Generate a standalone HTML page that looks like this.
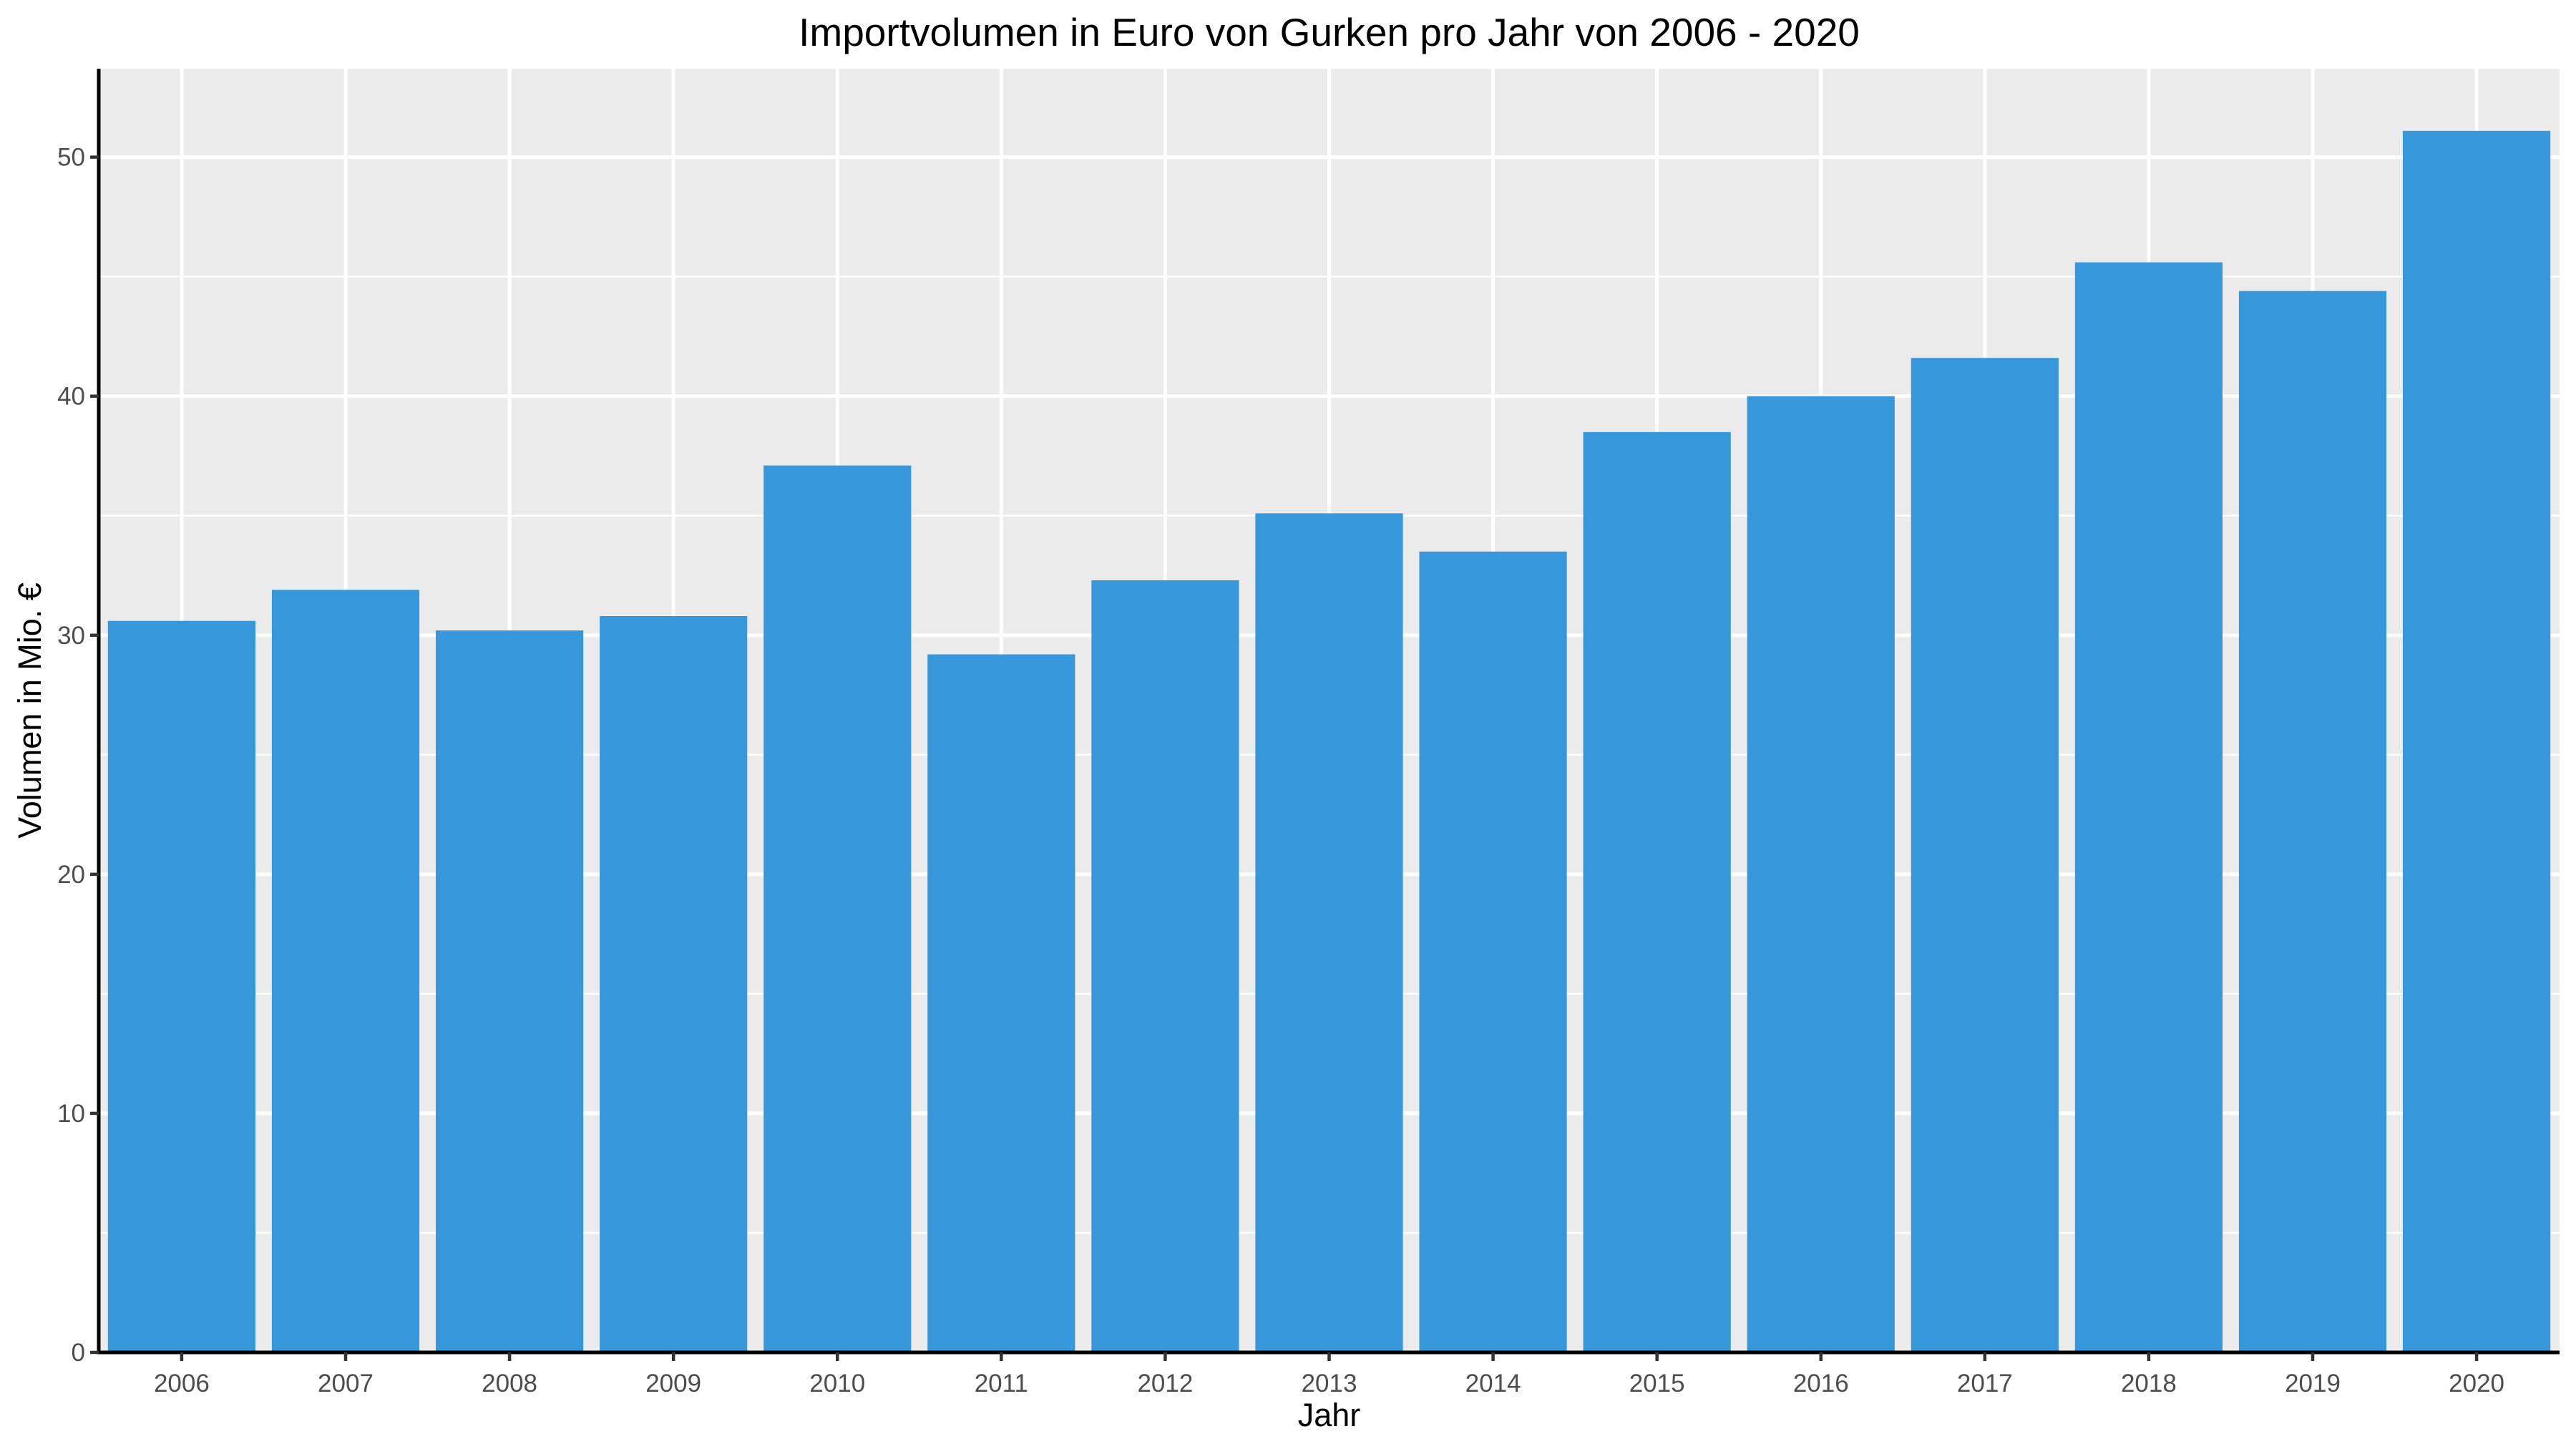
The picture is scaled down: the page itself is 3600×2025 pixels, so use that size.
<!DOCTYPE html>
<html><head><meta charset="utf-8"><style>
html,body{margin:0;padding:0;background:#fff;}
svg{display:block;font-family:"Liberation Sans",Arial,sans-serif;}
</style></head><body>
<svg id="chart" width="3600" height="2025" viewBox="0 0 3600 2025" xmlns="http://www.w3.org/2000/svg"></svg>
<script>
const categories = ["2006","2007","2008","2009","2010","2011","2012","2013","2014","2015","2016","2017","2018","2019","2020"];
const values = [30.6,31.9,30.2,30.8,37.1,29.2,32.3,35.1,33.5,38.5,40.0,41.6,45.6,44.4,51.1];
const yTicks = [0,10,20,30,40,50];
const yMinor = [5,15,25,35,45];

const NS="http://www.w3.org/2000/svg";
const svg=document.getElementById('chart');
const L=138,R=3577,T=96,B=1890;
const yMax=53.7;
const expand=0.506;
const step=(R-L)/(categories.length-1+2*expand);
function x(i){return L+(i+expand)*step;}
function y(v){return B-(v/yMax)*(B-T);}
function mk(tag,attrs,parent){const e=document.createElementNS(NS,tag);for(const k in attrs)e.setAttribute(k,attrs[k]);(parent||svg).appendChild(e);return e;}

const panel=mk('rect',{x:L,y:T,width:R-L,height:B-T,fill:'#ebebeb'});



const grid=mk('g',{});


yMinor.forEach(v=>{const l=mk('line',{x1:L,x2:R,y1:y(v),y2:y(v),stroke:'#fff','stroke-width':2.5},grid);

});
yTicks.forEach(v=>{const l=mk('line',{x1:L,x2:R,y1:y(v),y2:y(v),stroke:'#fff','stroke-width':5},grid);

});
categories.forEach((c,i)=>{const l=mk('line',{x1:x(i),x2:x(i),y1:T,y2:B,stroke:'#fff','stroke-width':5},grid);

});

const bars=mk('g',{});


const bw=step*0.9;
values.forEach((v,i)=>{const r=mk('rect',{x:x(i)-bw/2,y:y(v),width:bw,height:B-y(v),fill:'#3697da'},bars);

});

const ax=mk('g',{});


mk('line',{x1:L,x2:L,y1:T,y2:B+1.5,stroke:'#000','stroke-width':5},ax);
mk('line',{x1:L-2.5,x2:R,y1:B,y2:B,stroke:'#000','stroke-width':5},ax);

yTicks.forEach(v=>{
 mk('line',{x1:L-12,x2:L,y1:y(v),y2:y(v),stroke:'#333','stroke-width':4.5},ax);
 const t=mk('text',{x:L-19,y:y(v)+12,'text-anchor':'end','font-size':35,fill:'#4d4d4d'},ax);
 t.textContent=v;
 
 
});
categories.forEach((c,i)=>{
 mk('line',{x1:x(i),x2:x(i),y1:B,y2:B+12,stroke:'#333','stroke-width':4.5},ax);
 const t=mk('text',{x:x(i),y:B+55,'text-anchor':'middle','font-size':35,fill:'#4d4d4d'},ax);
 t.textContent=c;
 
 
});

const title=mk('text',{x:(L+R)/2,y:64,'text-anchor':'middle','font-size':55,fill:'#000'});
title.textContent='Importvolumen in Euro von Gurken pro Jahr von 2006 - 2020';



const xt=mk('text',{x:(L+R)/2,y:1993,'text-anchor':'middle','font-size':45,fill:'#000'});
xt.textContent='Jahr';



const yt=mk('text',{x:0,y:0,'text-anchor':'middle','font-size':45,fill:'#000',transform:'translate(57,'+((T+B)/2)+') rotate(-90)'});
yt.textContent='Volumen in Mio. €';


</script>
</body></html>
